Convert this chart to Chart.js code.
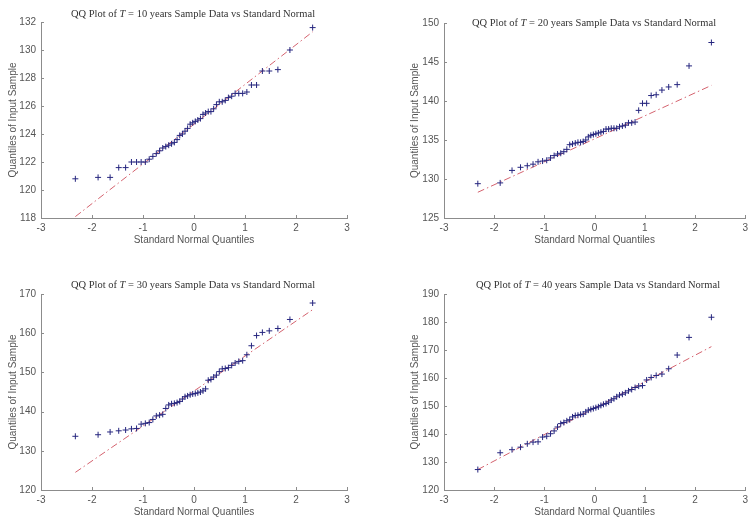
<!DOCTYPE html>
<html lang="en">
<head>
    <meta charset="UTF-8">
    <title>QQ Plots</title>
    <script src="https://cdn.jsdelivr.net/npm/chart.js"></script>
    <style>
        body {
            margin: 0;
            background: #fff;
            width: 752px;
            height: 520px;
            position: relative;
            overflow: hidden;
        }

        .plot {
            position: absolute;
        }

        /* plot titles, LaTeX-like serif */
        .title {
            position: absolute;
            font-family: "Liberation Serif", serif;
            font-size: 10.5px;
            color: #333;
            white-space: nowrap;
            transform: translate(-50%, -50%);
        }
    </style>
</head>
<body>
    <canvas id="c10" class="plot" width="376" height="260" style="left:0;top:0"></canvas>
    <canvas id="c20" class="plot" width="350" height="260" style="left:402px;top:0"></canvas>
    <canvas id="c30" class="plot" width="376" height="260" style="left:0;top:260px"></canvas>
    <canvas id="c40" class="plot" width="350" height="260" style="left:402px;top:260px"></canvas>

    <div class="title" style="left:193px;top:13px">QQ Plot of <i>T</i> = 10 years Sample Data vs Standard Normal</div>
    <div class="title" style="left:594px;top:22px">QQ Plot of <i>T</i> = 20 years Sample Data vs Standard Normal</div>
    <div class="title" style="left:193px;top:284px">QQ Plot of <i>T</i> = 30 years Sample Data vs Standard Normal</div>
    <div class="title" style="left:598px;top:284px">QQ Plot of <i>T</i> = 40 years Sample Data vs Standard Normal</div>

    <script>
        // standard normal quantiles for 50 samples
        const qx = [
            -2.3263, -1.8808, -1.6449, -1.4758, -1.3408, -1.2265, -1.1264, -1.0364, -0.9542, -0.8779,
            -0.8064, -0.7388, -0.6745, -0.6128, -0.5534, -0.4959, -0.4399, -0.3853, -0.3319, -0.2793,
            -0.2275, -0.1764, -0.1257, -0.0753, -0.0251, 0.0251, 0.0753, 0.1257, 0.1764, 0.2275,
            0.2793, 0.3319, 0.3853, 0.4399, 0.4959, 0.5534, 0.6128, 0.6745, 0.7388, 0.8064,
            0.8779, 0.9542, 1.0364, 1.1264, 1.2265, 1.3408, 1.4758, 1.6449, 1.8808, 2.3263
        ];

        // sorted sample values for each horizon
        const y10 = [
            120.8, 120.9, 120.9, 121.6, 121.6, 122.0, 122.0, 122.0, 122.0, 122.2,
            122.4, 122.6, 122.8, 123.0, 123.1, 123.2, 123.3, 123.4, 123.6, 123.9,
            124.0, 124.2, 124.4, 124.7, 124.8, 124.9, 125.0, 125.1, 125.4, 125.5,
            125.6, 125.6, 125.8, 126.1, 126.3, 126.3, 126.4, 126.6, 126.7, 126.9,
            126.9, 126.9, 127.0, 127.5, 127.5, 128.5, 128.5, 128.6, 130.0, 131.6
        ];
        const y20 = [
            129.4, 129.5, 131.1, 131.5, 131.7, 131.9, 132.2, 132.3, 132.4, 132.7,
            133.0, 133.2, 133.3, 133.5, 133.8, 134.4, 134.5, 134.6, 134.7, 134.7,
            134.8, 135.0, 135.4, 135.6, 135.7, 135.8, 135.9, 136.0, 136.1, 136.4,
            136.4, 136.5, 136.5, 136.5, 136.7, 136.8, 136.9, 137.2, 137.2, 137.3,
            138.8, 139.7, 139.7, 140.7, 140.8, 141.4, 141.8, 142.1, 144.5, 147.5
        ];
        const y30 = [
            133.7, 134.1, 134.8, 135.1, 135.3, 135.6, 135.7, 136.8, 137.0, 137.2,
            138.0, 138.9, 139.1, 139.3, 140.8, 141.7, 142.0, 142.1, 142.3, 142.6,
            143.2, 143.8, 144.0, 144.3, 144.5, 144.6, 144.8, 145.0, 145.3, 145.8,
            148.0, 148.2, 148.8, 149.3, 150.2, 150.9, 151.0, 151.2, 151.8, 152.4,
            152.8, 153.0, 154.5, 156.8, 159.4, 160.2, 160.6, 161.2, 163.5, 167.7
        ];
        const y40 = [
            127.3, 133.3, 134.4, 135.3, 136.5, 137.1, 137.2, 138.9, 139.2, 140.1,
            141.1, 142.5, 143.7, 144.1, 144.7, 145.1, 146.1, 146.6, 146.7, 147.0,
            147.1, 147.9, 148.5, 148.8, 149.1, 149.4, 149.7, 150.2, 150.6, 150.9,
            151.4, 152.1, 152.6, 153.3, 153.9, 154.2, 154.7, 155.4, 155.9, 156.6,
            157.1, 157.3, 159.3, 160.2, 160.9, 161.4, 163.3, 168.2, 174.5, 181.7
        ];

        // reference line end points
        const lineX = [-2.3263, 2.3263];
        const line10 = [118.1, 131.3];
        const line20 = [128.3, 142.0];
        const line30 = [124.5, 166.0];
        const line40 = [127.3, 171.2];

        // axis limits
        const xTicks = [-3, 3, 1];
        const yLim10 = [118, 132, 2];
        const yLim20 = [125, 150, 5];
        const yLim30 = [120, 170, 10];
        const yLim40 = [120, 190, 10];

        const axisColor = '#8c8c8c';
        const textColor = '#555555';
        const tickFont = { family: 'Liberation Sans', size: 10 };

        // matlab style ticks pointing into the plot
        const inwardTicks = {
            id: 'inwardTicks',
            afterDraw(chart) {
                const ctx = chart.ctx;
                const xs = chart.scales.x, ys = chart.scales.y;
                ctx.save();
                ctx.strokeStyle = axisColor;
                ctx.lineWidth = 1;
                ctx.beginPath();
                xs.ticks.forEach(t => {
                    const px = Math.round(xs.getPixelForValue(t.value)) + 0.5;
                    ctx.moveTo(px, ys.bottom);
                    ctx.lineTo(px, ys.bottom - 3);
                });
                ys.ticks.forEach(t => {
                    const py = Math.round(ys.getPixelForValue(t.value)) + 0.5;
                    ctx.moveTo(xs.left, py);
                    ctx.lineTo(xs.left + 3, py);
                });
                ctx.stroke();
                ctx.restore();
            }
        };

        function makeChart(id, yVals, lineY, yLim, box) {
            const pts = qx.map((x, i) => ({ x: x, y: yVals[i] }));
            const linePts = lineX.map((x, i) => ({ x: x, y: lineY[i] }));

            return new Chart(document.getElementById(id), {
                type: 'scatter',
                data: {
                    datasets: [{
                        data: pts,
                        pointStyle: 'cross',
                        pointRadius: 3,
                        pointBorderWidth: 1,
                        borderColor: '#26267f',
                        backgroundColor: '#26267f',
                        order: 1
                    }, {
                        data: linePts,
                        showLine: true,
                        pointRadius: 0,
                        borderColor: '#d4626e',
                        borderWidth: 1,
                        borderDash: [7, 3, 1.5, 3],
                        order: 2
                    }]
                },
                options: {
                    responsive: false,
                    animation: false,
                    layout: { padding: { top: box.top, right: box.right, left: 0, bottom: 0 } },
                    plugins: {
                        legend: { display: false },
                        tooltip: { enabled: false }
                    },
                    scales: {
                        x: {
                            type: 'linear',
                            min: xTicks[0],
                            max: xTicks[1],
                            ticks: { stepSize: xTicks[2], color: textColor, font: tickFont, padding: 4, maxRotation: 0 },
                            grid: { display: false, drawTicks: false },
                            border: { display: true, color: axisColor },
                            title: {
                                display: true,
                                text: 'Standard Normal Quantiles',
                                color: textColor,
                                font: tickFont,
                                padding: { top: 0, bottom: box.titleBottom }
                            },
                            afterFit: s => { s.height = box.xh; }
                        },
                        y: {
                            min: yLim[0],
                            max: yLim[1],
                            ticks: { stepSize: yLim[2], color: textColor, font: tickFont, padding: 5 },
                            grid: { display: false, drawTicks: false },
                            border: { display: true, color: axisColor },
                            title: {
                                display: true,
                                text: 'Quantiles of Input Sample',
                                color: textColor,
                                font: tickFont,
                                padding: { top: 7, bottom: 0 }
                            },
                            afterFit: s => { s.width = box.yw; }
                        }
                    }
                },
                plugins: [inwardTicks]
            });
        }

        makeChart('c10', y10, line10, yLim10, { top: 22, right: 29, xh: 42, yw: 41, titleBottom: 14 });
        makeChart('c20', y20, line20, yLim20, { top: 23, right: 3, xh: 42, yw: 42, titleBottom: 14 });
        makeChart('c30', y30, line30, yLim30, { top: 34, right: 29, xh: 30, yw: 41, titleBottom: 2 });
        makeChart('c40', y40, line40, yLim40, { top: 34, right: 3, xh: 30, yw: 42, titleBottom: 2 });
    </script>
</body>
</html>
